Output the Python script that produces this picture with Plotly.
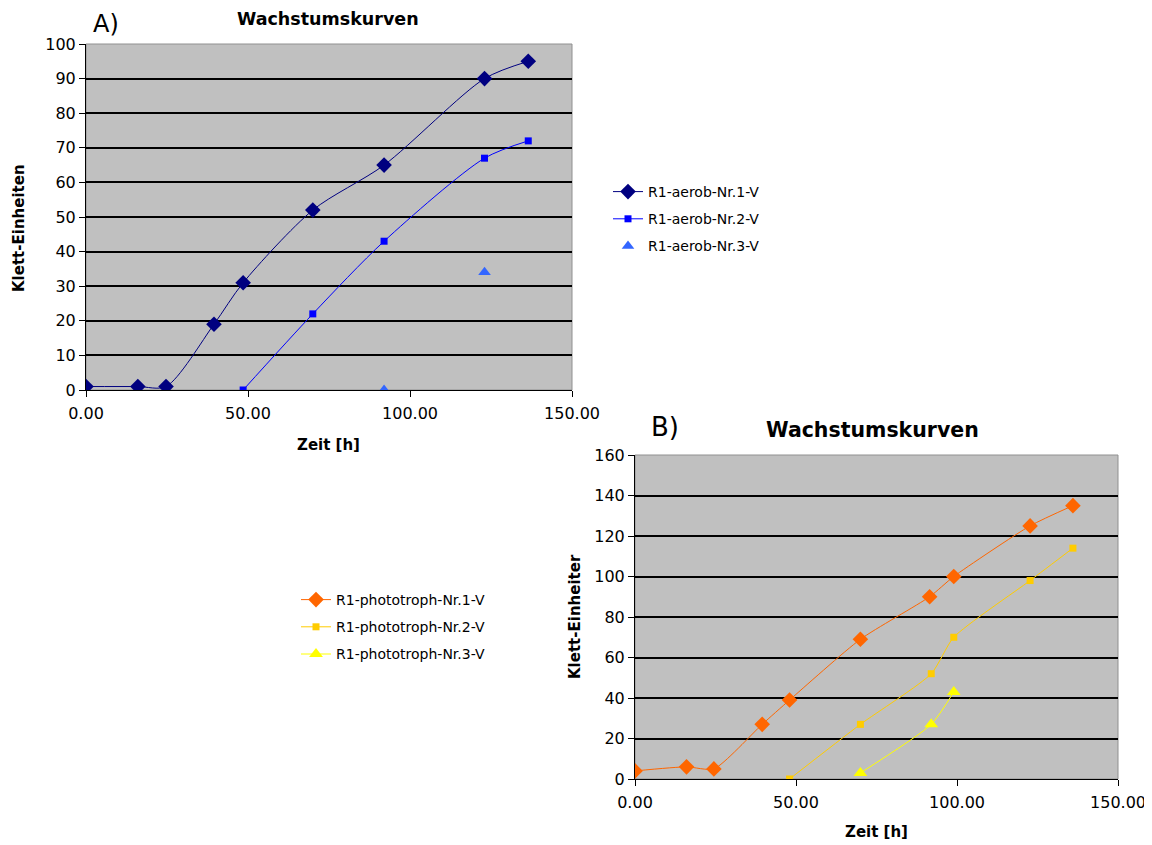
import plotly.graph_objects as go

# ---- Data chart A (aerob) ----
a1_x = [0, 16, 24.7, 39.5, 48.5, 70, 92, 123, 136.5]
a1_y = [1, 1, 1, 19, 31, 52, 65, 90, 95]
a2_x = [48.5, 70, 92, 123, 136.5]
a2_y = [0, 22, 43, 67, 72]
a3_x = [92, 123]
a3_y = [0, 34]

# ---- Data chart B (phototroph) ----
b1_x = [0, 16, 24.5, 39.5, 48, 70, 91.5, 99, 122.7, 136]
b1_y = [4, 6, 5, 27, 39, 69, 90, 100, 125, 135]
b2_x = [48, 70, 92, 99, 122.7, 136]
b2_y = [0, 27, 52, 70, 98, 114]
b3_x = [70, 92, 99]
b3_y = [3, 27, 43]

names_a = ["R1-aerob-Nr.1-V", "R1-aerob-Nr.2-V", "R1-aerob-Nr.3-V"]
names_b = ["R1-phototroph-Nr.1-V", "R1-phototroph-Nr.2-V", "R1-phototroph-Nr.3-V"]
title_text = "Wachstumskurven"
x_title = "Zeit [h]"
y_title_a = "Klett-Einheiten"
y_title_b = "Klett-Einheiter"

FONT = "DejaVu Sans"
OFF = 8  # page body margin
W, H = 1152 - OFF, 845 - OFF

def px(x):
    return (x - OFF) / W

def py(y):
    return 1 - (y - OFF) / H

fig = go.Figure()

# Chart A traces
fig.add_trace(go.Scatter(x=a1_x, y=a1_y, name=names_a[0], mode="lines+markers",
                         line=dict(color="#000080", width=1, shape="spline", smoothing=0.8),
                         marker=dict(symbol="diamond", size=12, color="#000080"),
                         xaxis="x", yaxis="y", legend="legend", legendgroup="a1"))
fig.add_trace(go.Scatter(x=a2_x, y=a2_y, name=names_a[1], mode="lines+markers",
                         line=dict(color="#0000FF", width=1, shape="spline", smoothing=0.8),
                         marker=dict(symbol="square", size=7, color="#0000FF"),
                         xaxis="x", yaxis="y", legend="legend", legendgroup="a2"))
fig.add_trace(go.Scatter(x=a3_x, y=a3_y, name=names_a[2], mode="markers",
                         marker=dict(symbol="triangle-up", size=11, color="#3366FF"),
                         xaxis="x", yaxis="y", legend="legend", legendgroup="a3"))

# Chart B traces
fig.add_trace(go.Scatter(x=b1_x, y=b1_y, name=names_b[0], mode="lines+markers",
                         line=dict(color="#FF6600", width=1, shape="spline", smoothing=0.6),
                         marker=dict(symbol="diamond", size=12, color="#FF6600"),
                         xaxis="x2", yaxis="y2", legend="legend2", legendgroup="b1"))
fig.add_trace(go.Scatter(x=b2_x, y=b2_y, name=names_b[1], mode="lines+markers",
                         line=dict(color="#FFCC00", width=1, shape="spline", smoothing=0.6),
                         marker=dict(symbol="square", size=7, color="#FFCC00"),
                         xaxis="x2", yaxis="y2", legend="legend2", legendgroup="b2"))
fig.add_trace(go.Scatter(x=b3_x, y=b3_y, name=names_b[2], mode="lines+markers",
                         line=dict(color="#FFFF00", width=1, shape="spline", smoothing=0.6),
                         marker=dict(symbol="triangle-up", size=12, color="#FFFF00"),
                         xaxis="x2", yaxis="y2", legend="legend2", legendgroup="b3"))

tickfont = dict(family=FONT, size=16, color="#000000")
axtitlefont = dict(family=FONT, size=15, color="#000000", weight="bold")

def xax(domain, anchor):
    return dict(domain=domain, anchor=anchor, range=[0, 150], tick0=0, dtick=50,
                tickformat=".2f", showgrid=False, zeroline=False, automargin=False,
                showline=True, linecolor="#000000", linewidth=1,
                ticks="outside", ticklen=6, tickcolor="#000000", ticklabelstandoff=3,
                tickfont=tickfont)

def yax(domain, anchor, rng, dt):
    return dict(domain=domain, anchor=anchor, range=rng, dtick=dt, tick0=0,
                showgrid=True, gridcolor="#000000", gridwidth=1.5, zeroline=False,
                automargin=False,
                showline=True, linecolor="#000000", linewidth=1,
                ticks="outside", ticklen=6, tickcolor="#000000",
                tickfont=tickfont)

xa_dom = [px(86), px(572)]
ya_dom = [py(390), py(44)]
xb_dom = [px(635), px(1118)]
yb_dom = [py(779), py(455)]

legfont = dict(family=FONT, size=14, color="#000000")
fig.update_layout(
    width=W, height=H,
    margin=dict(l=0, r=0, t=0, b=0, autoexpand=False),
    paper_bgcolor="#FFFFFF",
    plot_bgcolor="#C0C0C0",
    font=dict(family=FONT, size=14, color="#000000"),
    xaxis=xax(xa_dom, "y"),
    yaxis=yax(ya_dom, "x", [0, 100], 10),
    xaxis2=xax(xb_dom, "y2"),
    yaxis2=yax(yb_dom, "x2", [0, 160], 20),
    legend=dict(x=px(608), y=py(176), xanchor="left", yanchor="top",
                bgcolor="rgba(0,0,0,0)", font=legfont,
                itemwidth=30, tracegroupgap=6),
    legend2=dict(x=px(296), y=py(584), xanchor="left", yanchor="top",
                 bgcolor="rgba(0,0,0,0)", font=legfont,
                 itemwidth=30, tracegroupgap=6),
    showlegend=True,
)

# plot-area borders (gray top/right)
for xr, yr in (("x domain", "y domain"), ("x2 domain", "y2 domain")):
    fig.add_shape(type="rect", xref=xr, yref=yr, x0=0, x1=1, y0=0, y1=1,
                  line=dict(color="#909090", width=1), layer="below")

def ann(text, x, y, font, angle=0, yanchor="middle"):
    fig.add_annotation(text=text, x=px(x), y=py(y), xref="paper", yref="paper",
                       showarrow=False, font=font, textangle=angle,
                       xanchor="center", yanchor=yanchor, borderpad=0)

# titles and panel labels
ann(title_text, 328, 19, dict(family=FONT, size=17.5, weight="bold"))
ann("A)", 106, 9, dict(family=FONT, size=24), yanchor="top")
ann(title_text, 872, 430, dict(family=FONT, size=20.5, weight="bold"))
ann("B)", 665, 427, dict(family=FONT, size=26))

# axis titles
ann(x_title, 328, 445, axtitlefont)
ann(x_title, 876, 832, axtitlefont)
ann(y_title_a, 19, 228, axtitlefont, -90)
ann(y_title_b, 575, 617, axtitlefont, -90)

fig.write_html("out.html")
